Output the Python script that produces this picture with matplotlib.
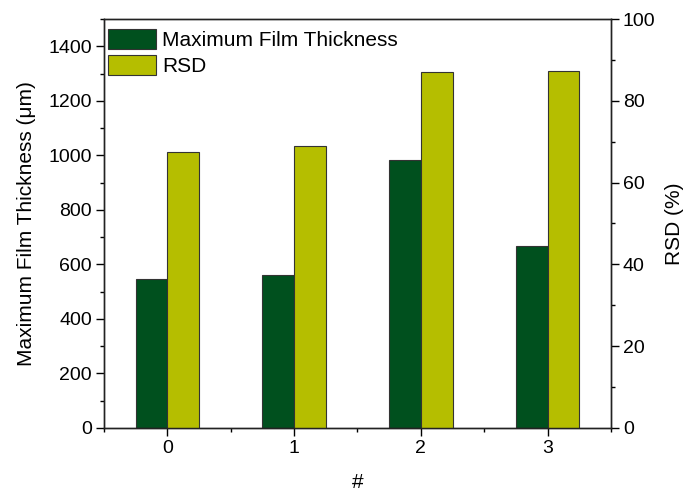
import matplotlib.pyplot as plt
import numpy as np
from matplotlib.ticker import MultipleLocator

plt.rcParams["font.family"] = ["Liberation Sans", "DejaVu Sans"]

C_THK = "#00501E"   # dark green
C_RSD = "#B5BE00"   # yellow-green
C_EDGE = "#333333"

samples = ["0", "1", "2", "3"]
max_thickness = [546, 562, 982, 666]   # um
rsd = [67.4, 69.0, 87.0, 87.3]         # %

x = np.arange(len(samples))
w = 0.25

fig = plt.figure(figsize=(6.83, 4.95), dpi=100)
ax = fig.add_axes([0.152, 0.1354, 0.7426, 0.8262])
ax2 = ax.twinx()

b1 = ax.bar(x - w / 2, max_thickness, w, color=C_THK, edgecolor=C_EDGE,
            lw=0.8, label="Maximum Film Thickness")
b2 = ax2.bar(x + w / 2, rsd, w, color=C_RSD, edgecolor=C_EDGE,
             lw=0.8, label="RSD")

ax.set_xlim(-0.5, 3.5)
ax.set_ylim(0, 1500)
ax2.set_ylim(0, 100)

ax.set_xticks(x)
ax.set_xticklabels(samples)
ax.xaxis.set_minor_locator(MultipleLocator(0.5))
ax.set_yticks(np.arange(0, 1401, 200))
ax.yaxis.set_minor_locator(MultipleLocator(100))
ax2.set_yticks(np.arange(0, 101, 20))
ax2.yaxis.set_minor_locator(MultipleLocator(10))

for a in (ax, ax2):
    a.tick_params(which="major", direction="out", length=5.5, width=1,
                  labelsize=14, colors="black", pad=3)
    a.tick_params(which="minor", direction="out", length=3, width=1)
    for s in a.spines.values():
        s.set_linewidth(1)
        s.set_color("#222222")

ax.set_xlabel("#", fontsize=15, labelpad=12)
ax.set_ylabel("Maximum Film Thickness (\u03bcm)", fontsize=15, labelpad=9)
ax2.set_ylabel("RSD (%)", fontsize=15, labelpad=7)

ax.legend([b1, b2], ["Maximum Film Thickness", "RSD"], loc="upper left",
          frameon=False, fontsize=15, handlelength=2.3, handleheight=1.1,
          labelspacing=0.2, handletextpad=0.3, borderaxespad=0.05,
          borderpad=0.15, bbox_to_anchor=(0.0, 0.985))

fig.savefig("out.png", dpi=100, facecolor="white")
